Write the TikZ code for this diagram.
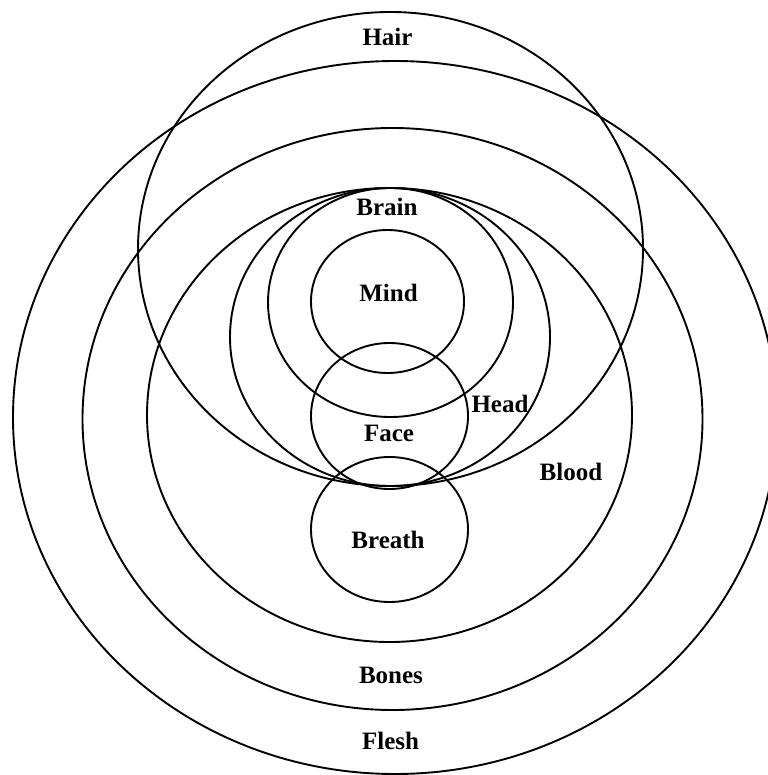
\documentclass[tikz,border=0pt]{standalone}
\usepackage{fontspec}
\setmainfont{Liberation Serif}

\begin{document}
\begin{tikzpicture}[x=1pt, y=-1pt,
  ring/.style={draw=black, line width=1.9pt},
  lbl/.style={font=\fontsize{25}{29}\selectfont\bfseries, inner sep=0pt}
]
\useasboundingbox (0,0) rectangle (767,775);
\fill[white] (0,0) rectangle (767,775);

% outer layers
\draw[ring] (395,417.5)   ellipse [x radius=382,   y radius=356.5]; % flesh
\draw[ring] (392.5,419)   ellipse [x radius=310,   y radius=291];   % bones
\draw[ring] (389.5,415)   ellipse [x radius=242.5, y radius=227];   % blood
\draw[ring] (390.5,249)   ellipse [x radius=252.5, y radius=237];   % hair

% head and what is in it
\draw[ring] (390,337)     ellipse [x radius=160,   y radius=149];   % head
\draw[ring] (390.5,302.5) ellipse [x radius=122.5, y radius=114.5]; % brain
\draw[ring] (387.5,301.5) ellipse [x radius=76.5,  y radius=71.5];  % mind
\draw[ring] (389.5,416)   ellipse [x radius=78.5,  y radius=73];    % face
\draw[ring] (389.5,529.5) ellipse [x radius=78.5,  y radius=72.5];  % breath

\node[lbl] (hair)   at (387.5,36.5)  {Hair};
\node[lbl] (brain)  at (387,206.5)   {Brain};
\node[lbl] (mind)   at (388.5,292.5) {Mind};
\node[lbl] (head)   at (500,404)     {Head};
\node[lbl] (face)   at (389,433.5)   {Face};
\node[lbl] (blood)  at (571,471.5)   {Blood};
\node[lbl] (breath) at (388,539.5)   {Breath};
\node[lbl] (bones)  at (391,675.5)   {Bones};
\node[lbl] (flesh)  at (390.5,741)   {Flesh};
\end{tikzpicture}
\end{document}
